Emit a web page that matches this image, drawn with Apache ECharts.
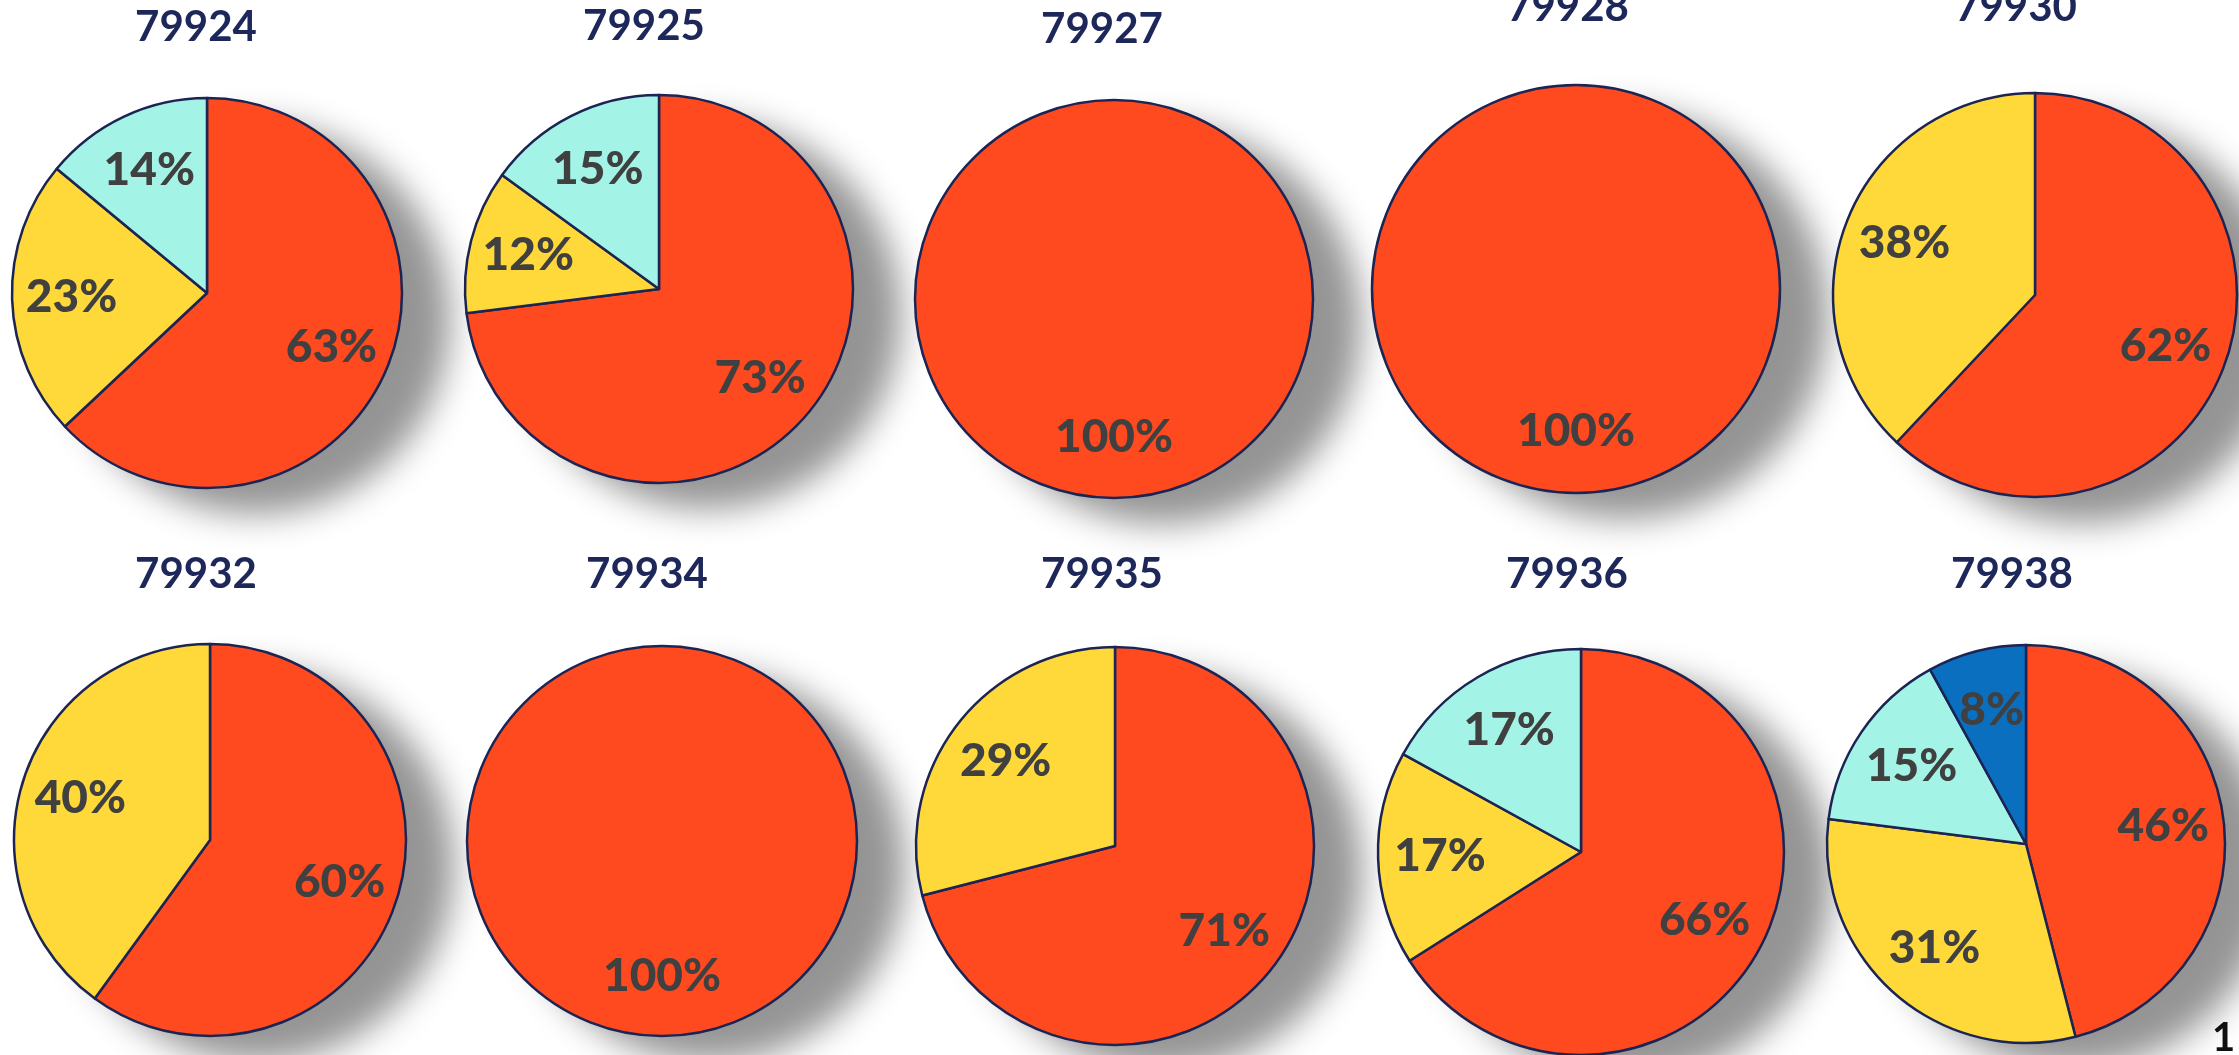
<!DOCTYPE html>
<html>
<head>
<meta charset="utf-8">
<script src="https://cdn.jsdelivr.net/npm/echarts@6/dist/echarts.min.js"></script>
<style>
html,body{margin:0;padding:0;background:#ffffff;}
#chart{width:2239px;height:1055px;}
</style>
</head>
<body>
<div id="chart"></div>
<script>
// ---- data ----
const zipCodes = ['79924','79925','79927','79928','79930','79932','79934','79935','79936','79938'];
const categoryNames = ['Category 1','Category 2','Category 3','Category 4'];
const cat1Pct = [63, 73, 100, 100, 62, 60, 100, 71, 66, 46];
const cat2Pct = [23, 12,   0,   0, 38, 40,   0, 29, 17, 31];
const cat3Pct = [14, 15,   0,   0,  0,  0,   0,  0, 17, 15];
const cat4Pct = [ 0,  0,   0,   0,  0,  0,   0,  0,  0,  8];

// ---- layout (positions / sizes) ----
const pieCenters = [[207,293],[659,289],[1114,299],[1576,289],[2035,295],
                    [210,840],[662,841],[1115,846],[1581,852],[2026,844]];
const pieRadii = [195,194,199,204,202,196,195,199,203,199];
const titleCenters = [[196,27],[644,26],[1102,29],[1568,7],[2016,7],
                      [196,574],[647,574],[1102,574],[1567,574],[2012,574]];

// ---- styles ----
const sliceColors = ['#FF4A1F','#FFD93A','#A3F4E6','#0B6FC0'];
const borderColor = '#1B2453';

const allSeries = [cat1Pct, cat2Pct, cat3Pct, cat4Pct];

const titles = [];
const series = [];
zipCodes.forEach((zip, i) => {
  const [cx, cy] = pieCenters[i];
  const r = pieRadii[i];
  titles.push({
    text: zip,
    left: titleCenters[i][0],
    top: titleCenters[i][1] - 22,
    textAlign: 'center',
    padding: 0,
    textStyle: {fontFamily: 'Lato', fontWeight: 'bold', fontSize: 42, color: '#1D2759', lineHeight: 44}
  });
  const data = [];
  allSeries.forEach((arr, k) => {
    if (arr[i] > 0) data.push({name: categoryNames[k], value: arr[i], itemStyle: {color: sliceColors[k]}});
  });
  const total = data.reduce((s, d) => s + d.value, 0);
  // shadow disc behind the pie
  series.push({
    type: 'pie', silent: true, z: 1, center: [cx, cy], radius: [0, r],
    startAngle: 90, clockwise: true, animation: false,
    label: {show: false}, labelLine: {show: false},
    itemStyle: {color: '#ffffff', shadowColor: 'rgba(0,0,0,0.42)', shadowBlur: 34, shadowOffsetX: 48, shadowOffsetY: 26},
    data: [{name: 'shadow', value: total}]
  });
  // main pie
  series.push({
    type: 'pie', z: 2, center: [cx, cy], radius: [0, r],
    startAngle: 90, clockwise: true, animation: false,
    label: {show: false}, labelLine: {show: false},
    emphasis: {disabled: true},
    itemStyle: {borderColor: borderColor, borderWidth: 2.5},
    data: data
  });
  // label ring (transparent) to place labels at ~0.68 r
  series.push({
    type: 'pie', silent: true, z: 3, center: [cx, cy], radius: [r * 0.36, r],
    startAngle: 90, clockwise: true, animation: false,
    itemStyle: {color: 'rgba(0,0,0,0)', borderWidth: 0},
    labelLine: {show: false},
    label: {show: true, position: 'inside', formatter: '{c}%',
            fontFamily: 'Lato', fontWeight: 900, fontSize: 46, color: '#404040'},
    data: data.map(d => ({name: d.name, value: d.value}))
  });
});

const chart = echarts.init(document.getElementById('chart'), null, {renderer: 'canvas'});
chart.setOption({
  backgroundColor: '#ffffff',
  animation: false,
  title: titles,
  series: series,
  graphic: [{
    type: 'text', left: 2212, top: 1018, silent: true,
    style: {text: '1', fontFamily: 'Lato', fontWeight: 'bold', fontSize: 40, fill: '#111111'}
  }]
});
</script>
</body>
</html>
